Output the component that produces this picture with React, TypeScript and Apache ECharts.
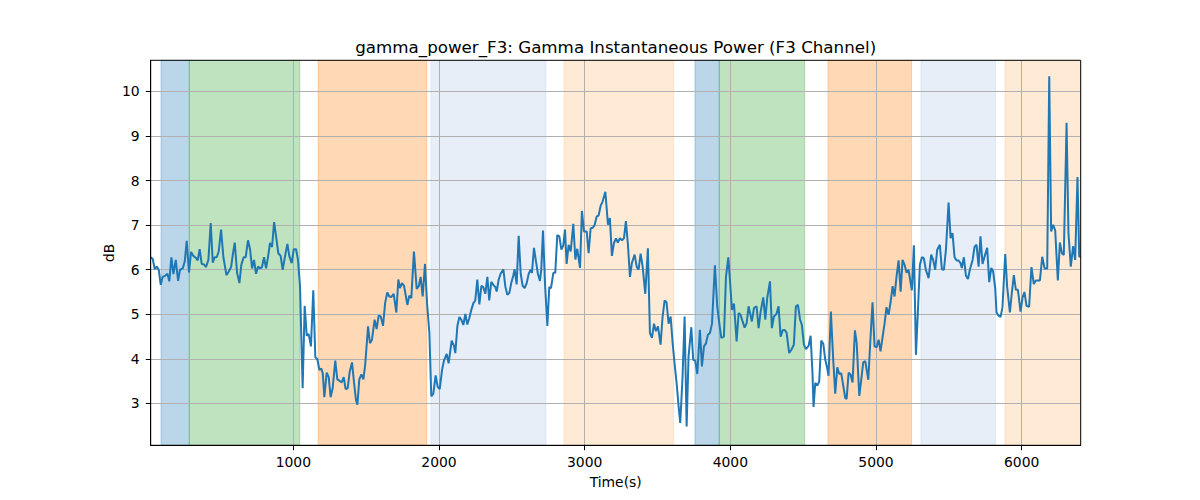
import React, { useEffect, useRef } from "react";
import * as echarts from "echarts";

const TITLE = "gamma_power_F3: Gamma Instantaneous Power (F3 Channel)";
const X_LABEL = "Time(s)";
const Y_LABEL = "dB";

const xTicks = [1000, 2000, 3000, 4000, 5000, 6000];
const yTicks = [3, 4, 5, 6, 7, 8, 9, 10];

const X_MIN = 21;
const X_MAX = 6405;
const Y_MIN = 2.06;
const Y_MAX = 10.7;

// [time (s), dB]
const powerSeries: [number, number][] = [
  [21, 6.28], [35, 6.24], [49, 6.01], [62, 6.07], [76, 6.0], [90, 5.66], [103, 5.84], [122, 5.87], [136, 5.91], [149, 5.74],
  [163, 6.28], [177, 5.9], [193, 6.22], [209, 5.75], [222, 6.0], [241, 6.03], [255, 6.19], [268, 6.65], [284, 5.94], [298, 6.4],
  [314, 6.31], [330, 6.27], [344, 6.21], [357, 6.46], [371, 6.13], [387, 6.12], [401, 6.06], [417, 6.22], [433, 7.05], [447, 6.16],
  [460, 6.28], [474, 6.28], [488, 6.41], [504, 6.9], [520, 6.28], [541, 5.88], [557, 5.96], [573, 6.06], [586, 6.37], [598, 6.61],
  [614, 5.93], [630, 5.7], [643, 6.11], [659, 6.28], [673, 6.28], [689, 6.66], [703, 6.46], [717, 6.03], [730, 6.22], [744, 5.91],
  [758, 6.07], [772, 6.03], [785, 6.06], [799, 6.28], [813, 6.03], [827, 6.3], [840, 6.6], [854, 6.51], [868, 7.07], [884, 6.69],
  [897, 6.37], [913, 6.31], [927, 6.0], [943, 6.3], [959, 6.58], [973, 6.3], [989, 6.15], [1003, 6.46], [1019, 6.46], [1032, 6.22],
  [1046, 5.63],
  [1064, 3.34], [1078, 5.19], [1092, 4.52], [1105, 4.56], [1121, 4.28], [1137, 5.54], [1151, 4.04], [1165, 3.99], [1179, 3.75], [1192, 3.78],
  [1202, 3.68], [1213, 3.14], [1229, 3.69], [1243, 3.59], [1256, 3.14], [1270, 3.34], [1288, 3.96], [1302, 3.54], [1316, 3.51], [1332, 3.47],
  [1346, 3.59], [1359, 3.32], [1373, 3.34], [1387, 3.71], [1403, 3.92], [1417, 3.46], [1430, 3.08], [1440, 2.97], [1453, 3.54], [1467, 3.65],
  [1481, 3.54], [1494, 3.89], [1513, 4.73], [1526, 4.35], [1540, 4.43], [1558, 4.88], [1572, 4.67], [1586, 4.97], [1600, 4.95], [1616, 4.74],
  [1630, 5.25], [1645, 5.49], [1659, 5.4], [1673, 5.39], [1689, 5.46], [1707, 5.04], [1721, 5.78], [1732, 5.59], [1746, 5.7], [1760, 5.64],
  [1783, 5.21], [1796, 5.42], [1810, 5.36], [1828, 6.41], [1847, 5.57], [1861, 5.63], [1874, 5.84], [1888, 5.4], [1904, 6.13], [1918, 5.25],
  [1934, 4.58], [1947, 3.16], [1961, 3.22], [1977, 3.63], [1991, 3.37], [2005, 3.32], [2021, 3.75], [2034, 3.96], [2053, 4.11], [2066, 3.9],
  [2087, 4.41], [2103, 4.29], [2112, 4.13], [2126, 4.73], [2140, 4.94], [2153, 4.88], [2167, 4.76], [2181, 5.01], [2194, 4.77], [2208, 4.91],
  [2222, 5.1], [2236, 5.25], [2249, 5.31], [2263, 5.78], [2277, 5.22], [2291, 5.64], [2304, 5.61], [2318, 5.46], [2332, 5.84], [2345, 5.31],
  [2359, 5.73], [2373, 5.66], [2387, 5.61], [2396, 5.51], [2410, 5.78], [2423, 5.91], [2442, 6.01], [2455, 5.63], [2469, 5.44], [2483, 5.48],
  [2496, 5.7], [2510, 5.87], [2519, 6.01], [2533, 5.67], [2547, 6.76], [2561, 5.91], [2574, 5.64], [2588, 5.59], [2602, 5.7], [2615, 5.9],
  [2629, 6.0], [2638, 5.93], [2652, 6.49], [2666, 6.18], [2679, 5.91], [2693, 5.75], [2702, 6.0], [2714, 6.88], [2728, 5.66], [2744, 4.74],
  [2757, 5.61], [2769, 5.59], [2785, 5.93], [2798, 5.93], [2812, 6.78], [2826, 6.75], [2840, 6.45], [2853, 6.54], [2865, 6.9], [2876, 6.13],
  [2890, 6.56], [2904, 6.41], [2922, 7.03], [2936, 6.23], [2949, 6.47], [2968, 6.04], [2981, 7.32], [2995, 6.86], [3014, 6.86], [3027, 6.37],
  [3041, 6.93], [3055, 6.94], [3068, 7.0], [3082, 7.19], [3096, 7.22], [3110, 7.44], [3123, 7.53], [3142, 7.75],
  [3160, 7.01], [3173, 7.16], [3187, 6.31], [3201, 6.6], [3215, 6.7], [3228, 6.61], [3242, 6.71], [3256, 6.66], [3270, 6.71], [3283, 7.09],
  [3297, 6.56], [3311, 5.84], [3324, 6.15], [3343, 6.34], [3357, 6.07], [3370, 6.0], [3384, 6.36], [3398, 6.07], [3416, 5.46], [3434, 6.48],
  [3448, 4.58], [3462, 4.47], [3476, 4.79], [3489, 4.62], [3503, 4.73], [3521, 4.32], [3535, 4.95], [3549, 5.31], [3562, 5.27], [3576, 4.79],
  [3590, 4.95], [3604, 4.35], [3617, 3.9], [3631, 3.46], [3645, 2.93], [3656, 2.56], [3672, 3.6], [3686, 4.95], [3700, 2.48], [3713, 4.05],
  [3732, 4.71], [3745, 3.98], [3759, 3.96], [3773, 3.66], [3791, 4.65], [3805, 3.83], [3819, 4.28], [3832, 4.34], [3846, 4.54], [3860, 4.58],
  [3874, 4.79], [3894, 6.1], [3910, 5.18], [3924, 4.8], [3938, 4.47], [3956, 4.5], [3970, 5.84], [3986, 6.28], [3997, 5.78], [4011, 5.1],
  [4025, 5.24], [4043, 4.39], [4057, 5.03], [4070, 4.99], [4084, 4.84], [4098, 4.7], [4112, 4.8], [4125, 5.18],
  [4148, 4.84], [4162, 5.14], [4180, 5.18], [4194, 4.69], [4208, 5.06], [4226, 5.38], [4240, 4.88], [4253, 5.36], [4272, 5.74], [4285, 4.69],
  [4299, 4.95], [4317, 5.01], [4331, 5.18], [4345, 4.5], [4359, 4.64], [4372, 4.65], [4386, 4.59], [4404, 4.13], [4418, 4.2], [4436, 4.32],
  [4450, 5.18], [4464, 5.21], [4478, 4.89], [4491, 4.76], [4505, 4.32], [4519, 4.22], [4537, 4.29], [4551, 4.52], [4564, 3.66], [4571, 2.92],
  [4583, 3.46], [4597, 3.4], [4610, 3.49], [4624, 4.41], [4638, 4.34], [4651, 3.99], [4665, 3.79], [4674, 3.62], [4690, 5.06], [4706, 3.99],
  [4720, 3.22], [4734, 3.81], [4748, 3.66], [4761, 3.68], [4775, 3.4], [4789, 3.12], [4798, 3.1], [4812, 3.69], [4825, 3.65], [4839, 3.47],
  [4855, 4.64], [4867, 4.37], [4885, 3.17], [4899, 3.54], [4912, 3.92], [4926, 3.95], [4947, 3.53], [4960, 4.35], [4976, 5.27], [4990, 4.28],
  [5004, 4.26], [5018, 4.43], [5031, 4.17], [5045, 4.49], [5059, 4.8], [5072, 5.16], [5086, 4.99], [5100, 5.27], [5114, 5.63], [5127, 5.4],
  [5141, 5.85], [5155, 6.21], [5169, 5.51], [5182, 6.22], [5196, 6.11], [5210, 5.93], [5223, 6.0],
  [5246, 5.54], [5260, 6.55], [5274, 4.09], [5287, 5.03], [5301, 6.11], [5315, 6.28], [5328, 6.26], [5342, 6.0], [5361, 5.81], [5379, 6.34],
  [5393, 6.21], [5406, 6.0], [5420, 6.45], [5438, 6.56], [5452, 6.01], [5466, 6.0], [5480, 6.45], [5498, 7.51], [5512, 6.71], [5525, 6.82],
  [5539, 6.28], [5553, 6.21], [5566, 6.21], [5580, 6.15], [5589, 6.04], [5603, 6.28], [5617, 5.87], [5631, 5.79], [5644, 6.0], [5663, 6.22],
  [5676, 6.51], [5690, 6.56], [5704, 6.07], [5717, 6.75], [5731, 6.13], [5749, 6.34], [5763, 6.49], [5777, 5.72], [5791, 6.04], [5804, 5.96],
  [5818, 5.59], [5827, 5.04], [5841, 4.97], [5855, 4.94],
  [5868, 5.16], [5887, 6.35], [5900, 5.62], [5919, 5.04], [5932, 5.47], [5946, 5.88], [5960, 5.55], [5974, 5.55], [5992, 5.06], [6006, 5.38],
  [6019, 5.5], [6033, 5.19], [6051, 5.17], [6067, 6.06], [6083, 5.68], [6097, 5.76], [6111, 5.76], [6125, 5.76], [6141, 6.29], [6157, 6.03],
  [6175, 6.03], [6189, 10.34], [6202, 6.86], [6216, 7.01], [6230, 6.88], [6248, 5.76], [6262, 6.61], [6276, 6.37], [6289, 6.33], [6308, 9.3],
  [6321, 6.82], [6337, 6.07], [6353, 6.53], [6367, 6.22], [6383, 8.08], [6395, 6.29], [6403, 6.3],
];

// shaded stage intervals
const spanStarts = [92, 286, 1170, 1945, 2858, 3757, 3924, 4670, 5308, 5885];
const spanEnds = [286, 1044, 1916, 2734, 3611, 3924, 4510, 5244, 5821, 6405];
const spanKinds = ["blue", "green", "orange", "lightblue", "lightorange", "blue", "green", "orange", "lightblue", "lightorange"];

const spanColors: Record<string, string> = {
  blue: "rgba(31,119,180,0.3)",
  green: "rgba(44,160,44,0.3)",
  orange: "rgba(255,127,14,0.3)",
  lightblue: "rgba(174,199,232,0.3)",
  lightorange: "rgba(255,187,120,0.3)",
};

const FONT = "DejaVu Sans";

export default function App() {
  const ref = useRef<HTMLDivElement>(null);

  useEffect(() => {
    if (!ref.current) return;
    const chart = echarts.init(ref.current, undefined, { renderer: "svg" });

    const gridLeft = 150.7;
    const gridRight = 1080.7;
    const gridTop = 60.3;
    const gridBottom = 445.3;

    const areas = spanStarts.map((s, i) => [
      {
        xAxis: s,
        itemStyle: {
          color: spanColors[spanKinds[i]],
          borderColor: spanColors[spanKinds[i]],
          borderWidth: 1,
        },
      },
      { xAxis: spanEnds[i] },
    ]);

    chart.setOption({
      animation: false,
      grid: {
        left: gridLeft,
        top: gridTop,
        width: gridRight - gridLeft,
        height: gridBottom - gridTop,
        show: true,
        borderColor: "#000",
        borderWidth: 1,
        backgroundColor: "transparent",
        z: 10,
      },
      xAxis: {
        type: "value",
        min: X_MIN,
        max: X_MAX,
        z: 3,
        axisLine: { show: true, onZero: false, lineStyle: { color: "#000", width: 1 } },
        axisTick: {
          show: true,
          length: 4.9,
          lineStyle: { color: "#000", width: 1 },
          customValues: xTicks,
        },
        axisLabel: {
          show: true,
          margin: 9.5,
          color: "#000",
          fontFamily: FONT,
          fontSize: 13.9,
          customValues: xTicks,
          formatter: (v: number) => String(v),
        },
        splitLine: { show: true, lineStyle: { color: "#b0b0b0", width: 1 } },
      },
      yAxis: {
        type: "value",
        min: Y_MIN,
        max: Y_MAX,
        z: 3,
        axisLine: { show: true, onZero: false, lineStyle: { color: "#000", width: 1 } },
        axisTick: {
          show: true,
          length: 4.9,
          lineStyle: { color: "#000", width: 1 },
          customValues: yTicks,
        },
        axisLabel: {
          show: true,
          margin: 11,
          color: "#000",
          fontFamily: FONT,
          fontSize: 13.9,
          customValues: yTicks,
          formatter: (v: number) => String(v),
        },
        splitLine: { show: true, lineStyle: { color: "#b0b0b0", width: 1 } },
      },
      series: [
        {
          type: "line",
          data: [],
          z: 1,
          silent: true,
          markArea: {
            silent: true,
            data: areas,
          },
        },
        {
          type: "line",
          data: powerSeries,
          z: 5,
          showSymbol: false,
          symbol: "none",
          lineStyle: { color: "#1f77b4", width: 2 },
          itemStyle: { color: "#1f77b4" },
          silent: true,
        },
      ],
      graphic: [
        {
          type: "text",
          x: (gridLeft + gridRight) / 2,
          y: 46.5,
          style: {
            text: TITLE,
            fill: "#000",
            font: `16.7px "${FONT}"`,
            textAlign: "center",
            textVerticalAlign: "middle",
          },
        },
        {
          type: "text",
          x: (gridLeft + gridRight) / 2,
          y: 481.5,
          style: {
            text: X_LABEL,
            fill: "#000",
            font: `13.9px "${FONT}"`,
            textAlign: "center",
            textVerticalAlign: "middle",
          },
        },
        {
          type: "text",
          x: 109,
          y: (gridTop + gridBottom) / 2,
          rotation: Math.PI / 2,
          style: {
            text: Y_LABEL,
            fill: "#000",
            font: `13.9px "${FONT}"`,
            textAlign: "center",
            textVerticalAlign: "middle",
          },
        },
      ],
    });

    return () => {
      chart.dispose();
    };
  }, []);

  return (
    <div
      ref={ref}
      style={{ position: "fixed", left: 0, top: 0, width: 1200, height: 500, background: "#fff" }}
    />
  );
}
